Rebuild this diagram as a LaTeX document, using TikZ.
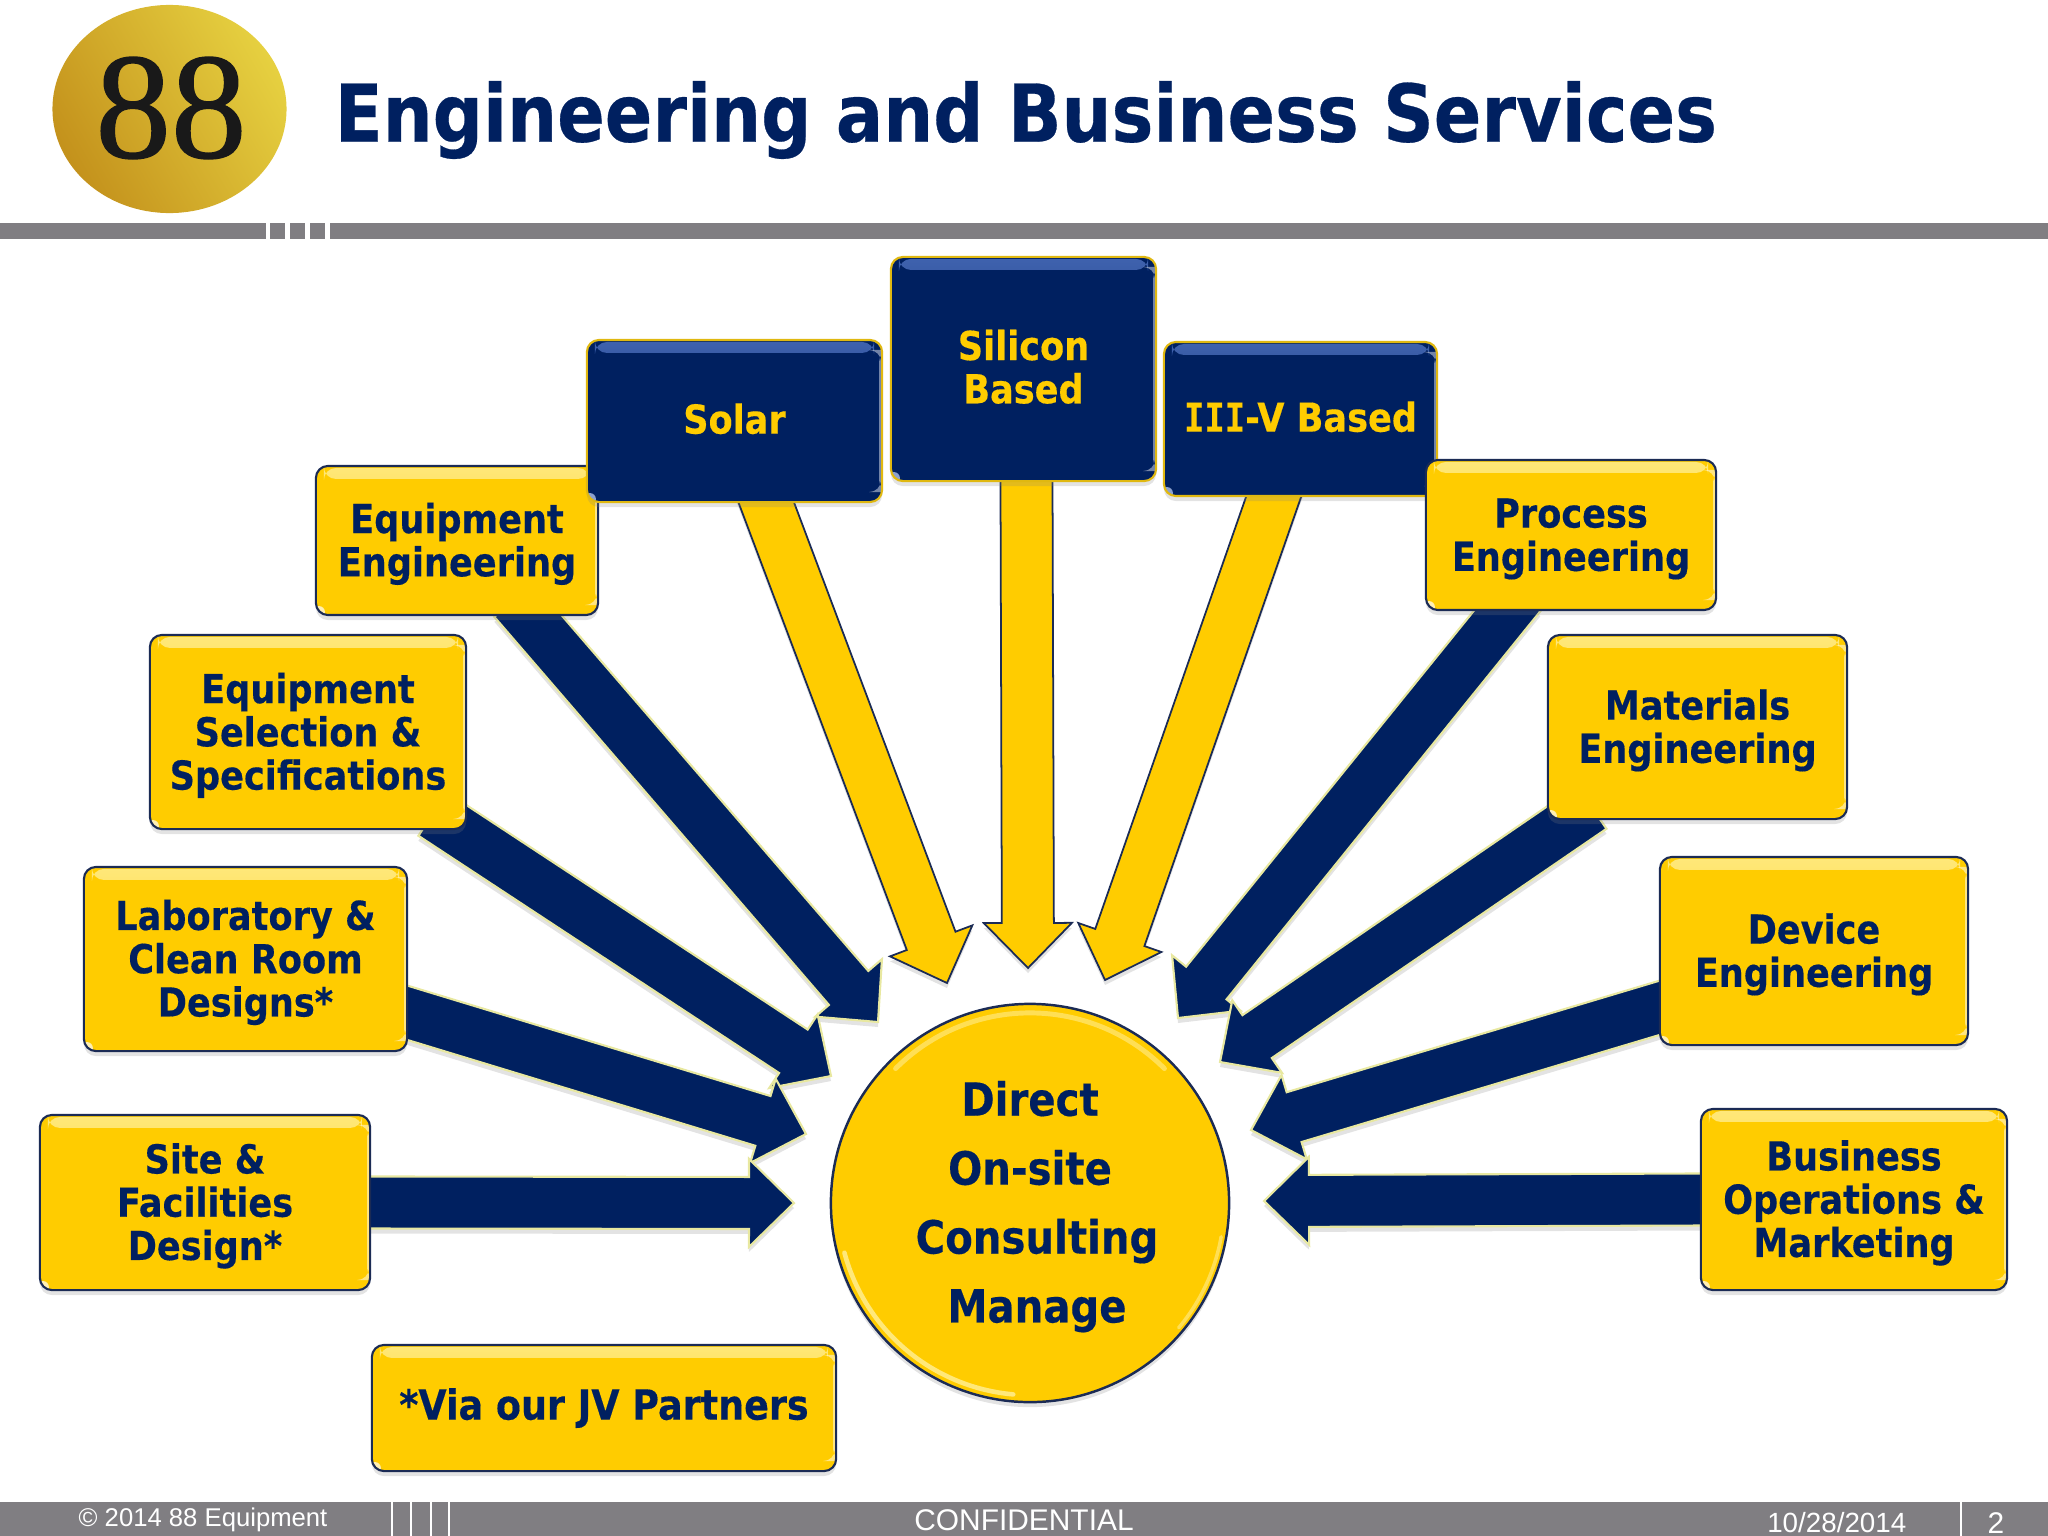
\documentclass[tikz,border=0pt]{standalone}
\usepackage{fontspec}
\setmainfont{Liberation Sans}
\newfontfamily\tah{DejaVu Sans}[FakeStretch=0.88,FakeBold=0.35]
\newfontfamily\tahI{DejaVu Sans Mono}[FakeStretch=0.85,FakeBold=0.35]
\newfontfamily\logofont{Liberation Serif}[FakeBold=0.9]
\usetikzlibrary{calc,backgrounds,shadows,fadings,shapes.geometric}
\newcommand\lowerbox{\rule{0pt}{.37cm}}
\newcommand\lowerhub{\rule{0pt}{.42cm}}
\newcommand\raisenav{\rule[-.05cm]{0pt}{.05cm}}
\definecolor{navy}{HTML}{002060}
\definecolor{gold}{HTML}{FFCC00}
\definecolor{rule}{HTML}{807E82}
\definecolor{paleY}{HTML}{FFE87A}
\definecolor{paleB}{HTML}{3F62AE}
\definecolor{edgeG}{HTML}{E0B810}
\definecolor{edgeN}{HTML}{1B2B55}
\definecolor{edgeP}{HTML}{E8E8A0}
\definecolor{logoL}{HTML}{C4921C}
\definecolor{logoR}{HTML}{E6D040}
\tikzset{
 softshadow/.style={drop shadow={opacity=.22,shadow xshift=0cm,shadow yshift=-.05cm}},
 ybox/.style={draw=edgeN,line width=.6pt,fill=gold,rounded corners=.12cm,align=center,text=navy,
   font=\tah\bfseries\fontsize{11.35}{12.3}\selectfont,inner sep=0pt,softshadow,
   path picture={\shade[top color=paleY,bottom color=gold]
     ([xshift=.08cm,yshift=-.02cm]path picture bounding box.north west) rectangle
     ([xshift=-.08cm,yshift=-.13cm]path picture bounding box.north east);
     \fill[white,opacity=.5] ([xshift=-.03cm,yshift=.1cm]path picture bounding box.south east) rectangle
     ([xshift=-.01cm,yshift=-.1cm]path picture bounding box.north east);
     \fill[white,opacity=.7] ([xshift=.03cm,yshift=.03cm]path picture bounding box.south west) circle (.06cm);}},
 nbox/.style={draw=edgeG,line width=.6pt,fill=navy,rounded corners=.12cm,align=center,text=gold,
   font=\tah\bfseries\fontsize{11.35}{12.3}\selectfont,inner sep=0pt,softshadow,
   path picture={\shade[top color=paleB,bottom color=navy]
     ([xshift=.08cm,yshift=-.02cm]path picture bounding box.north west) rectangle
     ([xshift=-.08cm,yshift=-.13cm]path picture bounding box.north east);
     \fill[paleB!60!white] ([xshift=.03cm,yshift=.03cm]path picture bounding box.south west) circle (.06cm);
     \fill[white,opacity=.45] ([xshift=-.03cm,yshift=.1cm]path picture bounding box.south east) rectangle
     ([xshift=-.01cm,yshift=-.1cm]path picture bounding box.north east);}},
 yarrow/.style={fill=gold,draw=edgeN,line width=.5pt,line join=miter,softshadow},
 narrow/.style={fill=navy,draw=edgeP,line width=.6pt,line join=miter,softshadow},
 foot/.style={text=white,inner sep=0pt},
 rulebar/.style={fill=rule,draw=none},
}
% block arrow: start point, tip point, style
\newcommand\blockarrow[3]{%
 \coordinate (bs) at ($(#2)!1.04!(#1)$);
 \coordinate (bb) at ($(#2)!.45cm!(#1)$);
 \path[#3] ($(bs)!.26cm!90:(#2)$) -- ($(bb)!.26cm!90:(#2)$) -- ($(bb)!.44cm!90:(#2)$) -- (#2)
   -- ($(bb)!.44cm!-90:(#2)$) -- ($(bb)!.26cm!-90:(#2)$) -- ($(bs)!.26cm!-90:(#2)$) -- cycle;
}
\begin{document}
\begin{tikzpicture}[x=.01cm,y=-.01cm]
\useasboundingbox (0,0) rectangle (2048,1536);

% logo
\node[ellipse,minimum width=2.34cm,minimum height=2.08cm,inner sep=0pt,left color=logoL,right color=logoR,shading angle=120] (logo) at (169.5,109) {};
\node[font=\logofont\fontsize{43}{43}\selectfont,text=black!90,inner sep=0pt] (logotext) at (171,108) {88};
\node[anchor=west,inner sep=0pt,text=navy,font=\tah\bfseries\fontsize{22.7}{25}\selectfont] (title) at (334,120) {Engineering and Business Services};

% header rule
\fill[rulebar] (0,223) rectangle (266,239);
\fill[rulebar] (270,223) rectangle (285,239);
\fill[rulebar] (290,223) rectangle (305,239);
\fill[rulebar] (310,223) rectangle (325,239);
\fill[rulebar] (330,223) rectangle (2048,239);

% boxes
\node[ybox,minimum width=2.82cm,minimum height=1.49cm] (eqeng) at (457,540.5) {\lowerbox Equipment\\Engineering};
\node[ybox,minimum width=3.16cm,minimum height=1.94cm] (eqsel) at (308,732) {\lowerbox Equipment\\Selection \&\\Specifications};
\node[ybox,minimum width=3.23cm,minimum height=1.84cm] (lab) at (245.5,959) {\lowerbox Laboratory \&\\Clean Room\\Designs*};
\node[ybox,minimum width=3.30cm,minimum height=1.75cm] (site) at (205,1202.5) {\lowerbox Site \&\\Facilities\\Design*};
\node[nbox,minimum width=2.73cm,minimum height=1.54cm] (iiiv) at (1300.5,419) {{\tahI III}-V Based\raisenav};
\node[nbox,minimum width=2.95cm,minimum height=1.62cm] (solar) at (734.5,421) {Solar\raisenav};
\node[nbox,minimum width=2.65cm,minimum height=2.24cm] (silicon) at (1023.5,369) {Silicon\\Based\raisenav};
\node[ybox,minimum width=2.90cm,minimum height=1.50cm] (process) at (1571,535) {\lowerbox Process\\Engineering};
\node[ybox,minimum width=2.99cm,minimum height=1.84cm] (materials) at (1697.5,727) {\lowerbox Materials\\Engineering};
\node[ybox,minimum width=3.08cm,minimum height=1.88cm] (device) at (1814,951) {\lowerbox Device\\Engineering};
\node[ybox,minimum width=3.06cm,minimum height=1.81cm] (business) at (1854,1199.5) {\lowerbox Business\\Operations \&\\Marketing};
\node[ybox,minimum width=4.64cm,minimum height=1.26cm,font=\tah\bfseries\fontsize{11.8}{13}\selectfont] (jv) at (604,1408) {*Via our JV Partners};

% centre
\node[circle,draw=edgeN,line width=.7pt,fill=gold,minimum size=3.98cm,inner sep=0pt,align=center,text=navy,softshadow,
  font=\tah\bfseries\fontsize{13}{19.6}\selectfont] (hub) at (1030,1203)
  {\lowerhub Direct\\On-site\\\hspace*{.14cm}Consulting\\\hspace*{.14cm}Manage};
\draw[paleY,line width=1.4pt,line cap=round,opacity=.7] ($(hub.center)+(45:1.9cm)$) arc[start angle=45,end angle=135,radius=1.9cm];
\draw[paleY,line width=1.3pt,line cap=round] ($(hub.center)+(195:1.92cm)$) arc[start angle=195,end angle=265,radius=1.92cm];
\draw[paleY,line width=1pt,line cap=round,opacity=.7] ($(hub.center)+(320:1.94cm)$) arc[start angle=320,end angle=350,radius=1.94cm];

% arrow ends
\coordinate (tSolar) at (947,983);
\coordinate (tSilicon) at (1028,968);
\coordinate (tIII) at (1105,980);
\coordinate (tEqEng) at (878,1022);
\coordinate (tEqSel) at (831,1076);
\coordinate (tLab) at (806,1134);
\coordinate (tSite) at (794,1203);
\coordinate (tProc) at (1178,1018);
\coordinate (tMat) at (1220,1062);
\coordinate (tDev) at (1251,1130);
\coordinate (tBus) at (1264,1201);
\begin{scope}[on background layer]
 \blockarrow{$(solar.south)+(32,0)$}{tSolar}{yarrow}
 \blockarrow{$(silicon.south)+(3,0)$}{tSilicon}{yarrow}
 \blockarrow{$(iiiv.south)+(-27,0)$}{tIII}{yarrow}
 \blockarrow{$(eqeng.south)+(71,0)$}{tEqEng}{narrow}
 \blockarrow{$(eqsel.south)+(140,-6)$}{tEqSel}{narrow}
 \blockarrow{$(lab.east)+(0,54)$}{tLab}{narrow}
 \blockarrow{site.east}{tSite}{narrow}
 \blockarrow{$(process.south)+(-64,0)$}{tProc}{narrow}
 \blockarrow{$(materials.south)+(-120,-3)$}{tMat}{narrow}
 \blockarrow{$(device.west)+(0,57)$}{tDev}{narrow}
 \blockarrow{business.west}{tBus}{narrow}
\end{scope}

% footer
\fill[rulebar] (0,1502) rectangle (2048,1536);
\foreach \xx in {392,411,431,449,1961}{\fill[white] (\xx-1.2,1502) rectangle (\xx+1.2,1536);}
\node[foot,anchor=west,font=\fontsize{7.3}{9}\selectfont] (copy) at (78,1520) {© 2014 88 Equipment};
\node[foot,font=\fontsize{8.5}{10}\selectfont] (conf) at (1024,1520) {CONFIDENTIAL};
\node[foot,anchor=east,font=\fontsize{7.9}{9}\selectfont] (date) at (1907,1523) {10/28/2014};
\node[foot,font=\fontsize{8.5}{10}\selectfont] (page) at (1996,1523) {2};
\end{tikzpicture}
\end{document}
